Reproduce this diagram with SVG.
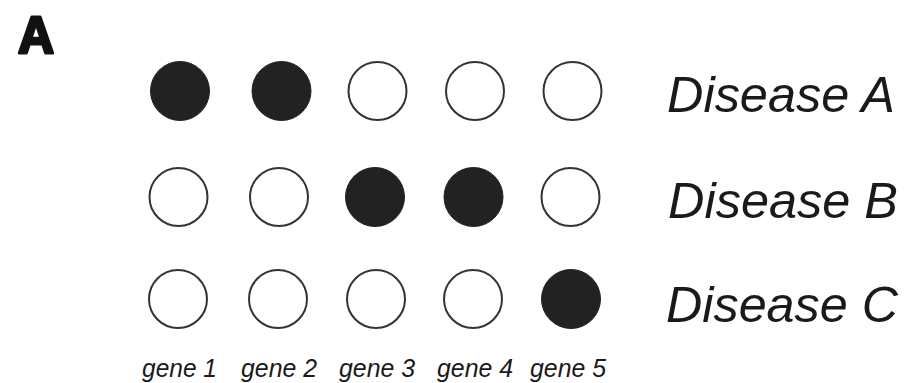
<svg xmlns="http://www.w3.org/2000/svg" width="906" height="383" viewBox="0 0 906 383">
<style>
.on{fill:#222;stroke:#222;stroke-width:1}
.off{fill:#fff;stroke:#333;stroke-width:2}
.dis{font-family:"Liberation Sans",Arial,sans-serif;font-style:italic;font-size:50px;fill:#1a1a1a}
.gene{font-family:"Liberation Sans",Arial,sans-serif;font-style:italic;font-size:25px;fill:#1a1a1a}
.lbl{font-family:"Liberation Sans",Arial,sans-serif;font-weight:bold;font-size:52px;fill:#111;stroke:#111;stroke-width:3;stroke-linejoin:round}
</style>
<rect width="906" height="383" fill="#fff"/>
<text class="lbl" x="18" y="53" textLength="36" lengthAdjust="spacingAndGlyphs">A</text>
<g id="row-A">
<circle class="on" cx="180" cy="91" r="29.5"/>
<circle class="on" cx="281.5" cy="91" r="29.5"/>
<circle class="off" cx="377.5" cy="91" r="29"/>
<circle class="off" cx="475" cy="91" r="29"/>
<circle class="off" cx="572.5" cy="91" r="29"/>
<text class="dis" x="667" y="112" textLength="228" lengthAdjust="spacingAndGlyphs">Disease A</text>
</g>
<g id="row-B">
<circle class="off" cx="178.5" cy="197" r="29"/>
<circle class="off" cx="279" cy="197" r="29"/>
<circle class="on" cx="375" cy="197" r="29.5"/>
<circle class="on" cx="473.5" cy="197" r="29.5"/>
<circle class="off" cx="570.5" cy="197" r="29"/>
<text class="dis" x="668" y="218" textLength="230" lengthAdjust="spacingAndGlyphs">Disease B</text>
</g>
<g id="row-C">
<circle class="off" cx="178" cy="299" r="29"/>
<circle class="off" cx="278" cy="299" r="29"/>
<circle class="off" cx="376" cy="299" r="29"/>
<circle class="off" cx="473" cy="299" r="29"/>
<circle class="on" cx="571" cy="299" r="29.5"/>
<text class="dis" x="666" y="322" textLength="232" lengthAdjust="spacingAndGlyphs">Disease C</text>
</g>
<g id="genes">
<text class="gene" x="142" y="377" textLength="75" lengthAdjust="spacingAndGlyphs">gene 1</text>
<text class="gene" x="241" y="377" textLength="76" lengthAdjust="spacingAndGlyphs">gene 2</text>
<text class="gene" x="339" y="377" textLength="76" lengthAdjust="spacingAndGlyphs">gene 3</text>
<text class="gene" x="437" y="377" textLength="76" lengthAdjust="spacingAndGlyphs">gene 4</text>
<text class="gene" x="530" y="377" textLength="76" lengthAdjust="spacingAndGlyphs">gene 5</text>
</g>
<g id="connectors"/>
</svg>
